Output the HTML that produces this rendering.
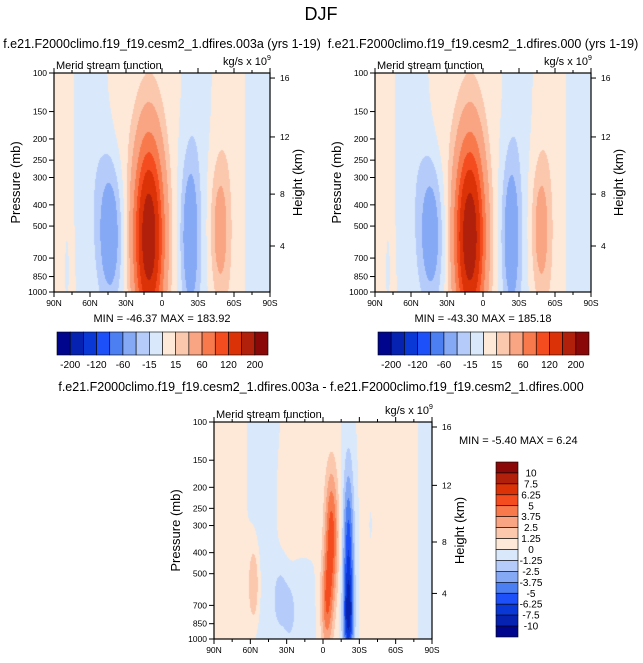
<!DOCTYPE html>
<html><head><meta charset="utf-8">
<style>
body{margin:0;background:#fff;width:643px;height:663px;overflow:hidden;position:relative;font-family:"Liberation Sans",sans-serif}
canvas{position:absolute}
svg{position:absolute;left:0;top:0}
</style></head>
<body>
<canvas id="c1" style="left:54px;top:73px" width="216" height="219"></canvas>
<canvas id="c2" style="left:375px;top:73px" width="216" height="219"></canvas>
<canvas id="c3" style="left:214px;top:422px" width="218" height="217"></canvas>
<svg id="s" width="643" height="663"></svg>
<script>
// ---- data ----
const colors=["#00058e","#0523b0","#0a38d6","#1e50fa","#4c7ff2","#86a9f6","#b5ccfb","#d9e9fb","#fee9d8","#fbc8ae","#f9a482","#f87a4c","#f54c1f","#db3207","#b1200b","#8a0808"];
const levels1=[-200,-160,-120,-90,-60,-30,-15,0,15,30,60,90,120,160,200];
const levels3=[-10,-7.5,-6.25,-5,-3.75,-2.5,-1.25,0,1.25,2.5,3.75,5,6.25,7.5,10];
const cb1Labels=["-200","-120","-60","-15","15","60","120","200"];
const cb3Labels=["10","7.5","6.25","5","3.75","2.5","1.25","0","-1.25","-2.5","-3.75","-5","-6.25","-7.5","-10"];
const pTicks=[100,150,200,250,300,400,500,700,850,1000];
const latTicks=[90,60,30,0,-30,-60,-90];
const latLabels=["90N","60N","30N","0","30S","60S","90S"];
const hTicks=[16,12,8,4];
// blobs: lat, pressure center, amplitude, sigma lat, sigma log10 p
const b1Lat=[11,43,-23,-48,-82,-56,-29,10,58,86,35,80];
const b1P=[560,540,560,520,400,400,400,400,200,500,150,800];
const b1Amp=[190,-50,-46,38,-8,8,-8,7,-9,7,7,-5];
const b1SL=[8.5,7.5,5.5,5.5,8,8,7,16,7,6,6,2];
const b1SP=[0.3,0.24,0.26,0.22,2,2,2,2,0.45,2,0.4,0.2];
const b2Lat=[11,43,-23,-48,-82,-56,-29,10,58,86,35,80];
const b2P=[560,540,560,520,400,400,400,400,200,500,150,800];
const b2Amp=[191,-47,-45,38,-8,8,-8,7,-9,7,7,-5];
const b2SL=[8.5,7.5,5.5,5.5,8,8,7,16,7,6,6,2];
const b2SP=[0.3,0.24,0.26,0.22,2,2,2,2,0.45,2,0.4,0.2];
const b3Lat=[-7,-3,-21,-21,57,35,28,74,50,22,-55,-85,-40,20];
const b3P=[330,700,450,800,560,650,750,400,400,250,400,400,300,700];
const b3Amp=[5.6,4.2,-6.3,-4.2,2.8,-2.1,-1.6,0.8,-0.8,0.7,0.7,-0.7,-0.4,-0.8];
const b3SL=[4,3.5,3.2,3,3.5,4,3,6,7,10,14,4,3,8];
const b3SP=[0.22,0.16,0.3,0.12,0.14,0.1,0.08,2,2,0.25,2,2,0.2,0.2];
// ---- rendering ----
function field(B,lat,p){let v=0;const lp=Math.log10(p);
 for(let i=0;i<B[0].length;i++){const dl=(lat-B[0][i])/B[3][i],dp=(lp-Math.log10(B[1][i]))/B[4][i];v+=B[2][i]*Math.exp(-0.5*(dl*dl+dp*dp));}return v;}
function hex(c){return [parseInt(c.substr(1,2),16),parseInt(c.substr(3,2),16),parseInt(c.substr(5,2),16)];}
const rgb=colors.map(hex);
function paint(id,B,levels){const c=document.getElementById(id),ctx=c.getContext('2d'),W=c.width,H=c.height;
 const img=ctx.createImageData(W,H);
 for(let y=0;y<H;y++){const p=100*Math.pow(10,(y+0.5)/H);
  for(let x=0;x<W;x++){const lat=90-180*(x+0.5)/W;const v=field(B,lat,p);let k=0;while(k<levels.length&&v>=levels[k])k++;
   const o=(y*W+x)*4,col=rgb[k];img.data[o]=col[0];img.data[o+1]=col[1];img.data[o+2]=col[2];img.data[o+3]=255;}}
 ctx.putImageData(img,0,0);}
paint('c1',[b1Lat,b1P,b1Amp,b1SL,b1SP],levels1);
paint('c2',[b2Lat,b2P,b2Amp,b2SL,b2SP],levels1);
paint('c3',[b3Lat,b3P,b3Amp,b3SL,b3SP],levels3);
const S=document.getElementById('s'),NS="http://www.w3.org/2000/svg";
function el(t,a,txt){const e=document.createElementNS(NS,t);for(const k in a)e.setAttribute(k,a[k]);if(txt!==undefined)e.textContent=txt;S.appendChild(e);return e;}
const hFrac=[0.023,0.292,0.553,0.79];
function axes(x0,x1,y0,y1,name){
 const sx=l=>x0+(90-l)/180*(x1-x0), sy=p=>y0+(y1-y0)*Math.log10(p/100);
 let r=el('rect',{x:x0,y:y0,width:x1-x0,height:y1-y0,fill:'none',stroke:'#000','stroke-width':1.2});
 
 for(let l=90;l>=-90;l-=15){const X=sx(l),len=(l%30===0)?5:3;
  el('line',{x1:X,x2:X,y1:y1,y2:y1+len,stroke:'#000'});el('line',{x1:X,x2:X,y1:y0,y2:y0-len,stroke:'#000'});}
 latTicks.forEach((l,i)=>{const t=el('text',{x:sx(l),y:y1+14,'font-size':8.5,'text-anchor':'middle'},latLabels[i]);
  });
 pTicks.forEach(p=>{const Y=sy(p);el('line',{x1:x0-5,x2:x0,y1:Y,y2:Y,stroke:'#000'});
  const t=el('text',{x:x0-7,y:Y+3,'font-size':8.5,'text-anchor':'end'},p);
  });
 hTicks.forEach((h,i)=>{const Y=y0+hFrac[i]*(y1-y0);el('line',{x1:x1,x2:x1+5,y1:Y,y2:Y,stroke:'#000'});
  const t=el('text',{x:x1+10,y:Y+3,'font-size':8.5},h);
  });
 let t=el('text',{x:x0+2,y:y0-4,'font-size':11},'Merid stream function');
 t=el('text',{x:x1-3,y:y0-8,'font-size':11,'text-anchor':'end'},'kg/s x 10');
 el('text',{x:x1-3,y:y0-13,'font-size':7},'9');
 const my=(y0+y1)/2;
 t=el('text',{x:0,y:0,'font-size':13,'text-anchor':'middle',transform:`translate(${x0-34},${my}) rotate(-90)`},'Pressure (mb)');
 t=el('text',{x:0,y:0,'font-size':13,'text-anchor':'middle',transform:`translate(${x1+32},${my}) rotate(-90)`},'Height (km)');
}
axes(54,270,73,292,'left-panel');axes(375,591,73,292,'right-panel');axes(214,432,422,639,'diff-panel');
let t=el('text',{x:321,y:20,'font-size':18,'text-anchor':'middle'},'DJF');
t=el('text',{x:162,y:48,'font-size':12.5,'text-anchor':'middle'},'f.e21.F2000climo.f19_f19.cesm2_1.dfires.003a (yrs 1-19)');
t=el('text',{x:483,y:48,'font-size':12.5,'text-anchor':'middle'},'f.e21.F2000climo.f19_f19.cesm2_1.dfires.000 (yrs 1-19)');
t=el('text',{x:321,y:391,'font-size':12.5,'text-anchor':'middle'},'f.e21.F2000climo.f19_f19.cesm2_1.dfires.003a - f.e21.F2000climo.f19_f19.cesm2_1.dfires.000');
t=el('text',{x:162,y:322,'font-size':11,'text-anchor':'middle'},'MIN = -46.37  MAX = 183.92');
t=el('text',{x:483,y:322,'font-size':11,'text-anchor':'middle'},'MIN = -43.30  MAX = 185.18');
t=el('text',{x:459,y:444,'font-size':11},'MIN =  -5.40  MAX =   6.24');
function hbar(x0,x1,y0,y1,name){const w=(x1-x0)/16;
 colors.forEach((c,i)=>{const r=el('rect',{x:x0+i*w,y:y0,width:w,height:y1-y0,fill:c,stroke:'#000','stroke-width':0.6});
  });
 cb1Labels.forEach((l,i)=>{const X=x0+(2*i+1)*w;const tt=el('text',{x:X,y:y1+13,'font-size':10,'text-anchor':'middle'},l);
  });}
hbar(57,268,332,355,'left-colorbar');hbar(378,589,332,355,'right-colorbar');
(function(){const x0=496,x1=518,y0=462,y1=637,h=(y1-y0)/16;
 colors.slice().reverse().forEach((c,i)=>{const r=el('rect',{x:x0,y:y0+i*h,width:x1-x0,height:h,fill:c,stroke:'#000','stroke-width':0.6});
  });
 cb3Labels.forEach((l,i)=>{const tt=el('text',{x:531,y:y0+(i+1)*h+3.5,'font-size':10,'text-anchor':'middle'},l);
  });})();
</script>
</body></html>
